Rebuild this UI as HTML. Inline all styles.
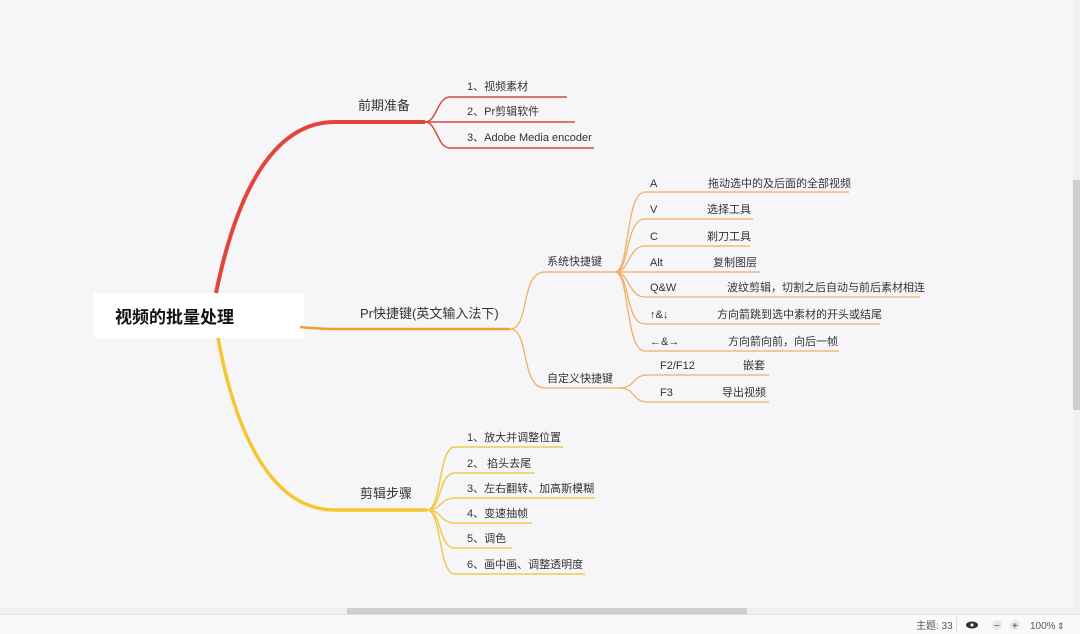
<!DOCTYPE html>
<html><head><meta charset="utf-8"><style>
body{margin:0;width:1080px;height:634px;background:#f6f6f9;overflow:hidden;font-family:"Liberation Sans","Noto Sans CJK SC",sans-serif;}
svg{position:absolute;left:0;top:0}
text{font-family:"Liberation Sans","Noto Sans CJK SC",sans-serif;fill:#333;}
</style></head><body>
<svg width="1080" height="634" viewBox="0 0 1080 634">
<rect x="94" y="293" width="210" height="45" fill="#fff"/>
<text x="115" y="323" font-size="17" font-weight="bold" fill="#111" style="fill:#111">视频的批量处理</text>
<!-- red -->
<path d="M216 293 C235 200 270 122 335 122 L425 122" stroke="#e2453a" stroke-width="4" fill="none"/>
<path d="M425 122 L425 122" stroke="#e2453a"/>
<g stroke="#d94a40" stroke-width="1.5" fill="none">
<path d="M425 122 C437 122 437 97 450 97 L567 97"/>
<path d="M425 122 L575 122"/>
<path d="M425 122 C437 122 437 148 450 148 L594 148"/>
</g>
<text x="358" y="110" font-size="13">前期准备</text>
<text x="467" y="90" font-size="11">1、视频素材</text>
<text x="467" y="115" font-size="11">2、Pr剪辑软件</text>
<text x="467" y="141" font-size="11">3、Adobe Media encoder</text>
<!-- orange -->
<path d="M300 327 C320 329 330 329 350 329 L510 329" stroke="#f0a030" stroke-width="2.5" fill="none"/>
<g stroke="#f0b060" stroke-width="1.3" fill="none">
<path d="M510 329 C530 329 520 272 545 272 L615 272"/>
<path d="M510 329 C530 329 520 388 545 388 L620 388"/>
<path d="M615 272 C630 272 625 192 645 192 L849 192"/>
<path d="M615 272 C630 272 625 219 645 219 L753 219"/>
<path d="M615 272 C630 272 628 246 645 246 L750 246"/>
<path d="M615 272 L760 272"/>
<path d="M615 272 C630 272 628 297 645 297 L920 297"/>
<path d="M615 272 C630 272 625 324 645 324 L880 324"/>
<path d="M615 272 C630 272 625 351 645 351 L839 351"/>
<path d="M620 388 C635 388 632 375 648 375 L769 375"/>
<path d="M620 388 C635 388 632 402 648 402 L769 402"/>
</g>
<text x="360" y="318" font-size="13">Pr快捷键(英文输入法下)</text>
<text x="547" y="265" font-size="11">系统快捷键</text>
<text x="547" y="382" font-size="11">自定义快捷键</text>
<g font-size="11">
<text x="650" y="187">A</text><text x="708" y="187">拖动选中的及后面的全部视频</text>
<text x="650" y="213">V</text><text x="707" y="213">选择工具</text>
<text x="650" y="240">C</text><text x="707" y="240">剃刀工具</text>
<text x="650" y="266">Alt</text><text x="713" y="266">复制图层</text>
<text x="650" y="291">Q&amp;W</text><text x="727" y="291">波纹剪辑，切割之后自动与前后素材相连</text>
<text x="650" y="318">↑&amp;↓</text><text x="717" y="318">方向箭跳到选中素材的开头或结尾</text>
<text x="650" y="345">←&amp;→</text><text x="728" y="345">方向箭向前，向后一帧</text>
<text x="660" y="369">F2/F12</text><text x="743" y="369">嵌套</text>
<text x="660" y="396">F3</text><text x="722" y="396">导出视频</text>
</g>
<!-- yellow -->
<path d="M218 338 C235 430 270 510 335 510 L427 510" stroke="#f5c630" stroke-width="3.5" fill="none"/>
<g stroke="#f2c84a" stroke-width="1.5" fill="none">
<path d="M427 510 C442 510 438 447 455 447 L563 447"/>
<path d="M427 510 C442 510 438 473 455 473 L535 473"/>
<path d="M427 510 C442 510 440 498 455 498 L595 498"/>
<path d="M427 510 C442 510 440 523 455 523 L532 523"/>
<path d="M427 510 C442 510 438 548 455 548 L512 548"/>
<path d="M427 510 C442 510 438 574 455 574 L585 574"/>
</g>
<text x="360" y="498" font-size="13">剪辑步骤</text>
<g font-size="11">
<text x="467" y="441">1、放大并调整位置</text>
<text x="467" y="467">2、 掐头去尾</text>
<text x="467" y="492">3、左右翻转、加高斯模糊</text>
<text x="467" y="517">4、变速抽帧</text>
<text x="467" y="542">5、调色</text>
<text x="467" y="568">6、画中画、调整透明度</text>
</g>
<!-- scrollbars -->
<rect x="0" y="608" width="1073" height="6" fill="#f0f0f0"/>
<rect x="347" y="608" width="400" height="6" fill="#cfcfcf"/>
<rect x="1073" y="0" width="7" height="614" fill="#f0f0f0"/>
<rect x="1073" y="180" width="7" height="230" fill="#cfcfcf"/>
<rect x="0" y="614" width="1080" height="20" fill="#fafafa"/>
<line x1="0" y1="614.5" x2="1080" y2="614.5" stroke="#e0e0e0"/>
<line x1="956.5" y1="617" x2="956.5" y2="633" stroke="#ddd"/>
<text x="916" y="629" font-size="10" style="fill:#555">主题: 33</text>
<ellipse cx="972" cy="625" rx="6" ry="3.5" fill="#333"/><circle cx="972" cy="625" r="1.5" fill="#fff"/>
<circle cx="997" cy="625" r="5" fill="#e8e8e8"/><text x="994" y="629" font-size="10" style="fill:#444">−</text>
<circle cx="1015" cy="625" r="5" fill="#e8e8e8"/><text x="1012" y="629" font-size="10" style="fill:#444">+</text>
<text x="1030" y="629" font-size="10" style="fill:#555">100%</text>
<text x="1057" y="629" font-size="9" style="fill:#555">⇕</text>
</svg>
</body></html>
